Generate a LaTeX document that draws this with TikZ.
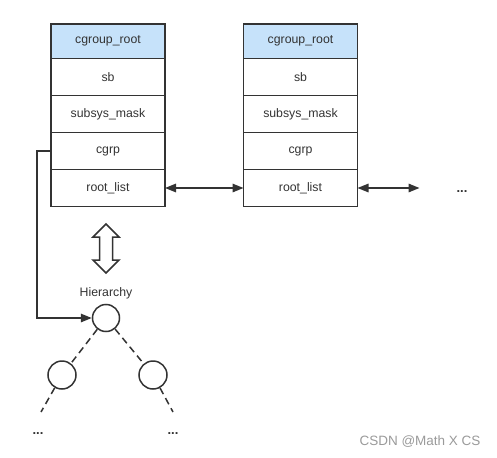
\documentclass[tikz,border=0pt]{standalone}
\usepackage{fontspec}
\setmainfont{Liberation Sans}
\usetikzlibrary{arrows.meta,calc}
\definecolor{hdr}{HTML}{C6E2FA}
\definecolor{ln}{HTML}{333333}
\definecolor{wm}{HTML}{9A9A9A}
\begin{document}
\begin{tikzpicture}[x=1pt,y=-1pt,
  every node/.style={font=\fontsize{12.3}{14}\selectfont, text=ln},
  cell/.style={draw=ln, line width=1.5pt, minimum width=114pt, inner sep=0pt, outer sep=0pt, anchor=north},
  conn/.style={draw=ln, line width=1.5pt},
  tip/.style={-{Triangle[length=11pt,width=8.5pt]}},
  dtip/.style={{Triangle[length=11pt,width=8.5pt]}-{Triangle[length=11pt,width=8.5pt]}},
  tnode/.style={circle, draw=ln, line width=1.5pt, inner sep=0pt},
  dsh/.style={draw=ln, line width=1.5pt, dash pattern=on 7pt off 4.5pt},
  dots/.style={font=\bfseries\fontsize{13}{14}\selectfont}]
\useasboundingbox (0,0) rectangle (497,457);
% left structure
\node[cell, fill=hdr, minimum height=34.5pt] (L1) at (108,24) {cgroup\_root};
\node[cell, minimum height=37pt] (L2) at (L1.south) {sb};
\node[cell, minimum height=37pt] (L3) at (L2.south) {subsys\_mask};
\node[cell, minimum height=37pt] (L4) at (L3.south) {cgrp};
\node[cell, minimum height=37pt] (L5) at (L4.south) {root\_list};
% right structure
\node[cell, fill=hdr, minimum height=34.5pt] (R1) at (300.5,24) {cgroup\_root};
\node[cell, minimum height=37pt] (R2) at (R1.south) {sb};
\node[cell, minimum height=37pt] (R3) at (R2.south) {subsys\_mask};
\node[cell, minimum height=37pt] (R4) at (R3.south) {cgrp};
\node[cell, minimum height=37pt] (R5) at (R4.south) {root\_list};
% list links
\draw[conn, dtip] (L5.east) -- (R5.west);
\coordinate (RE) at ($(R5.east)+(62,0)$);
\draw[conn, dtip] (R5.east) -- (RE);
\node[dots] (MD) at (462,192) {...};
% double arrow
\draw[draw=ln, line width=1.5pt, fill=white, line join=miter]
  (106,224) -- (119,237) -- (112.5,237) -- (112.5,260) -- (119,260) -- (106,273)
  -- (93,260) -- (99.5,260) -- (99.5,237) -- (93,237) -- cycle;
% hierarchy
\node (H) at (106,293) {Hierarchy};
\node[tnode, minimum size=27pt] (P) at (106,318) {};
\node[tnode, minimum size=28pt] (C1) at (62,375) {};
\node[tnode, minimum size=28pt] (C2) at (153,375) {};
\draw[conn, tip] (L4.west) -- (37,151) |- (P.west);
\draw[dsh] (P) -- (C1);
\draw[dsh] (P) -- (C2);
\coordinate (E1) at (41,412);
\coordinate (E2) at (173,412);
\draw[dsh] (C1) -- (E1);
\draw[dsh] (C2) -- (E2);
\node[dots] (D1) at (38,434) {...};
\node[dots] (D2) at (173,434) {...};
% watermark
\node[font=\fontsize{13.5}{15}\selectfont, text=wm] (W) at (420,442) {CSDN @Math X CS};
\end{tikzpicture}
\end{document}
